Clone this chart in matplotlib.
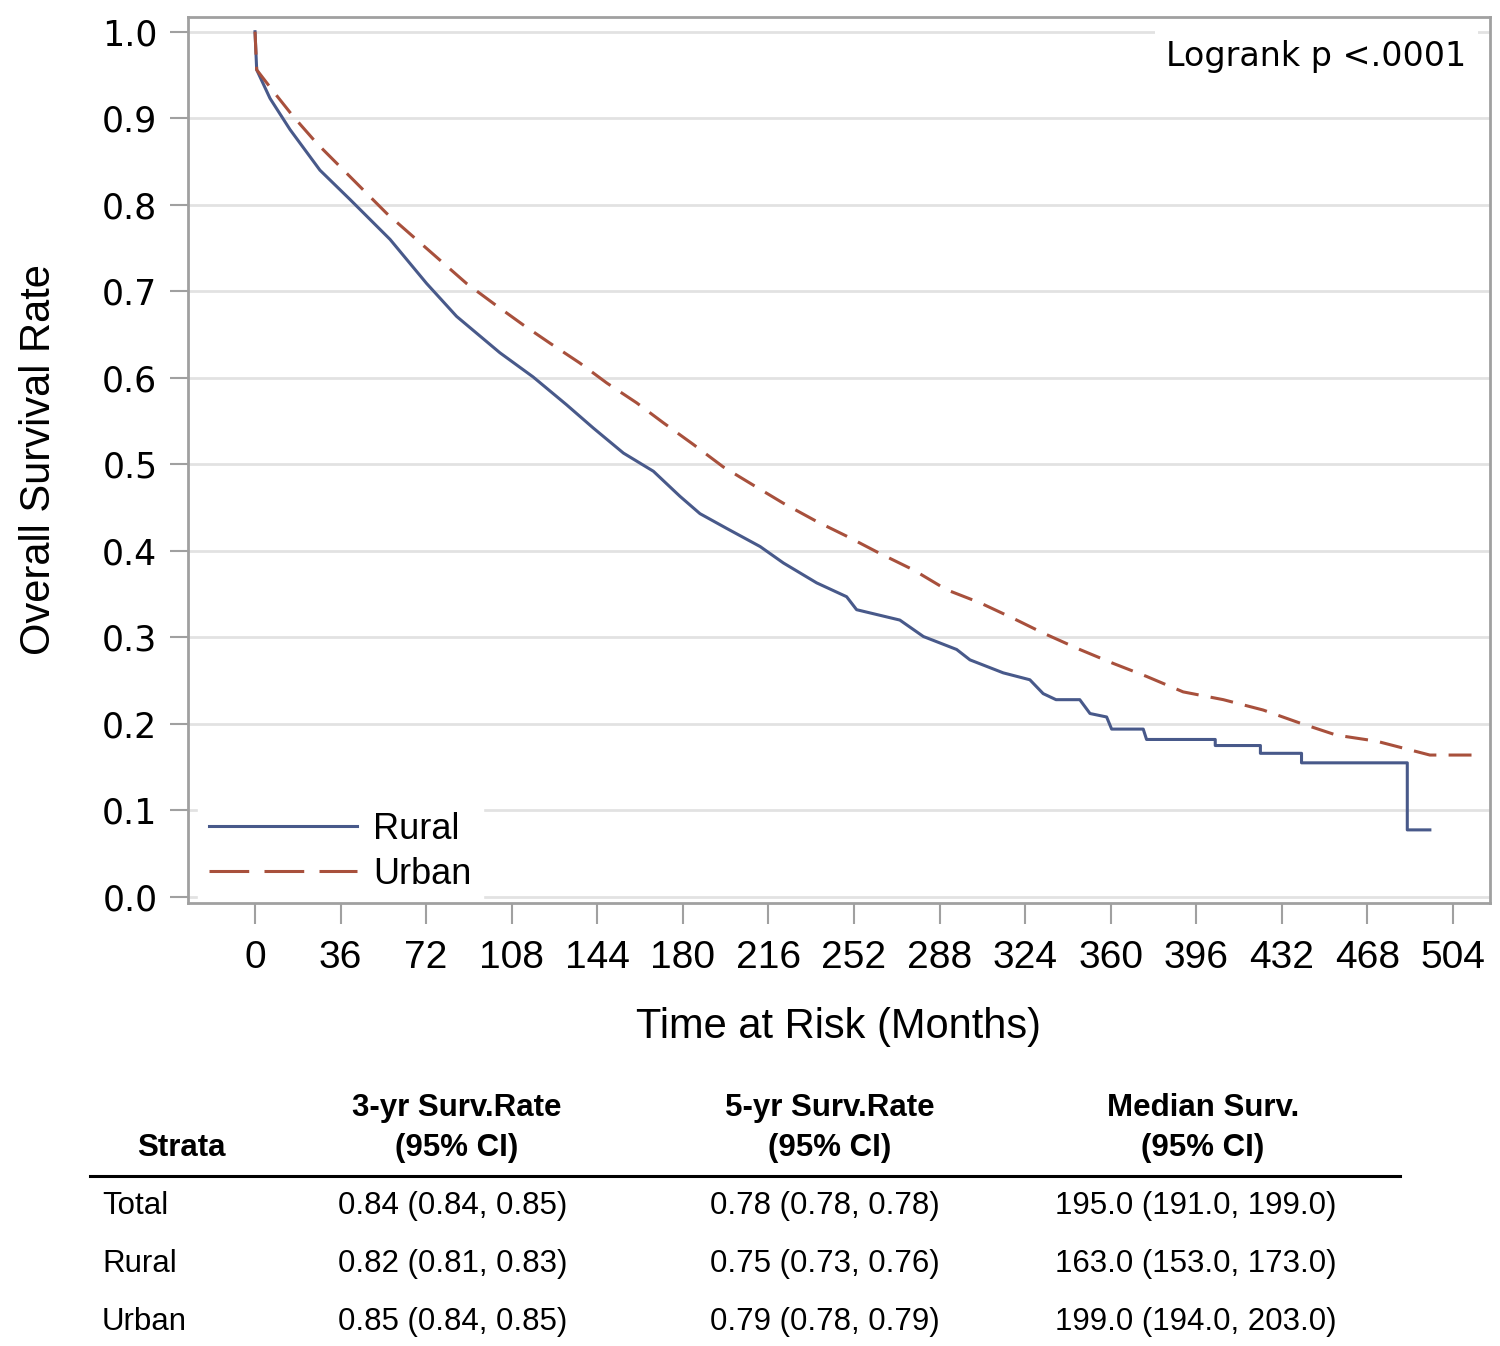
import numpy as np
import matplotlib
matplotlib.use('Agg')
import matplotlib.pyplot as plt
from matplotlib.lines import Line2D

# Kaplan-Meier curves (months, survival)
rural_months = [0, 0.7, 6.3, 14.7, 27.3, 40, 56.8, 72.2, 84.8, 103, 117, 131, 142.3, 155,
                167.6, 178.8, 187.2, 198.4, 212.5, 222.3, 236.3, 248.9, 253.1, 271.3, 281.2,
                295.2, 300.8, 314.8, 326, 331.6, 337, 347, 351.3, 358.3, 360.4, 373.7, 375.1,
                404, 404, 423, 423, 440.3, 440.3, 484.8, 484.8, 494.3]
rural_surv = [1.0, 0.956, 0.923, 0.887, 0.840, 0.806, 0.760, 0.709, 0.671, 0.629, 0.601, 0.569,
              0.542, 0.513, 0.492, 0.463, 0.443, 0.426, 0.405, 0.386, 0.363, 0.347, 0.332,
              0.320, 0.301, 0.286, 0.274, 0.259, 0.251, 0.235, 0.228, 0.228, 0.212, 0.208,
              0.194, 0.194, 0.182, 0.182, 0.175, 0.175, 0.166, 0.166, 0.155, 0.155, 0.0775,
              0.0775]

urban_months = [0, 0.7, 7.7, 16.1, 26, 35.8, 45.6, 55.4, 66.6, 77.8, 89, 100.3, 112.9, 124.1,
                136.7, 148, 160.6, 171.8, 184.4, 197, 209.6, 222.3, 236.3, 248.9, 262.9, 277,
                291, 305, 319, 331.6, 347, 361, 375, 390.5, 407.4, 424.2, 439.6, 455, 471.9,
                488.7, 494.3, 513.3]
urban_surv = [1.0, 0.956, 0.931, 0.902, 0.871, 0.844, 0.817, 0.790, 0.763, 0.736, 0.709, 0.686,
              0.661, 0.640, 0.617, 0.594, 0.571, 0.548, 0.523, 0.497, 0.476, 0.455, 0.434,
              0.417, 0.397, 0.378, 0.355, 0.340, 0.322, 0.305, 0.286, 0.270, 0.255, 0.237,
              0.228, 0.216, 0.201, 0.187, 0.180, 0.168, 0.164, 0.164]

x_ticks = [0, 36, 72, 108, 144, 180, 216, 252, 288, 324, 360, 396, 432, 468, 504]
y_ticks = [0.0, 0.1, 0.2, 0.3, 0.4, 0.5, 0.6, 0.7, 0.8, 0.9, 1.0]

# Summary table
strata = ['Total', 'Rural', 'Urban']
col_headers = [('3-yr Surv.Rate', '(95% CI)'), ('5-yr Surv.Rate', '(95% CI)'), ('Median Surv.', '(95% CI)')]
surv_3yr = ['0.84 (0.84, 0.85)', '0.82 (0.81, 0.83)', '0.85 (0.84, 0.85)']
surv_5yr = ['0.78 (0.78, 0.78)', '0.75 (0.73, 0.76)', '0.79 (0.78, 0.79)']
median_surv = ['195.0 (191.0, 199.0)', '163.0 (153.0, 173.0)', '199.0 (194.0, 203.0)']

RURAL_COLOR = '#48598a'
URBAN_COLOR = '#a8503c'
SANS = 'Liberation Sans'

W, H = 1500, 1346
fig = plt.figure(figsize=(W / 100, H / 100), dpi=100)
ax = fig.add_axes([188 / W, 1 - 903 / H, (1490 - 188) / W, (903 - 17) / H])

ax.plot(rural_months, rural_surv, color=RURAL_COLOR, lw=2.2, zorder=3)
ax.plot(urban_months, urban_surv, color=URBAN_COLOR, lw=2.2, dashes=(7.5, 4), zorder=4)

ax.set_xlim(-28.2, 519.6)
ax.set_ylim(-0.007, 1.017)
ax.set_xticks(x_ticks)
ax.set_yticks(y_ticks)
ax.set_yticklabels([f'{v:.1f}' for v in y_ticks], fontsize=25, family='DejaVu Sans')
ax.set_xticklabels([str(v) for v in x_ticks], fontsize=28, family=SANS)
ax.tick_params(axis='y', length=13, width=1.5, color='#a0a0a0', pad=9)
ax.tick_params(axis='x', length=15, width=1.5, color='#a0a0a0', pad=12)
ax.grid(axis='y', color='#e2e2e2', lw=2)
ax.set_axisbelow(True)
for s in ax.spines.values():
    s.set_color('#a0a0a0')
    s.set_linewidth(2)

ax.set_xlabel('Time at Risk (Months)', fontsize=30, family=SANS, labelpad=22)
ax.set_ylabel('Overall Survival Rate', fontsize=30, family=SANS, labelpad=31)

handles = [Line2D([], [], color=RURAL_COLOR, lw=2.2),
           Line2D([], [], color=URBAN_COLOR, lw=2.2, dashes=(13, 5))]
leg = ax.legend(handles, ['Rural', 'Urban'], loc='lower left', bbox_to_anchor=(-0.006, -0.02),
                handlelength=4.1, handletextpad=0.45, labelspacing=0.28,
                borderpad=0.3, frameon=True, fancybox=False,
                prop={'family': SANS, 'size': 26})
leg.get_frame().set_edgecolor('white')
leg.get_frame().set_facecolor('white')
leg.get_frame().set_alpha(1)
leg.set_zorder(2)  # under the spines, over the grid

ax.text(0.982, 0.955, 'Logrank p <.0001', transform=ax.transAxes, ha='right', va='center',
        fontsize=24, family='DejaVu Sans',
        bbox=dict(facecolor='white', edgecolor='none', pad=8), zorder=2)


# table below the plot, positions in pixels of the figure
def fx(px):
    return px / W


def fy(py):
    return 1 - py / H


TFS = 22.5
fig.text(fx(181), fy(1148), 'Strata', ha='center', va='center', fontsize=TFS, family=SANS, weight='bold')
for cx, (h1, h2) in zip([457, 830, 1203], col_headers):
    fig.text(fx(cx), fy(1108), h1, ha='center', va='center', fontsize=TFS, family=SANS, weight='bold')
    fig.text(fx(cx), fy(1148), h2, ha='center', va='center', fontsize=TFS, family=SANS, weight='bold')

fig.add_artist(Line2D([fx(90), fx(1400)], [fy(1176), fy(1176)], color='black', lw=2.2))

row_y = [1206, 1264, 1322]
for i, name in enumerate(strata):
    fig.text(fx(102), fy(row_y[i]), name, ha='left', va='center', fontsize=TFS, family=SANS)
    for cx, vals in zip([453, 825, 1196], [surv_3yr, surv_5yr, median_surv]):
        fig.text(fx(cx), fy(row_y[i]), vals[i], ha='center', va='center', fontsize=TFS, family=SANS)

fig.savefig('out.png', dpi=100)
